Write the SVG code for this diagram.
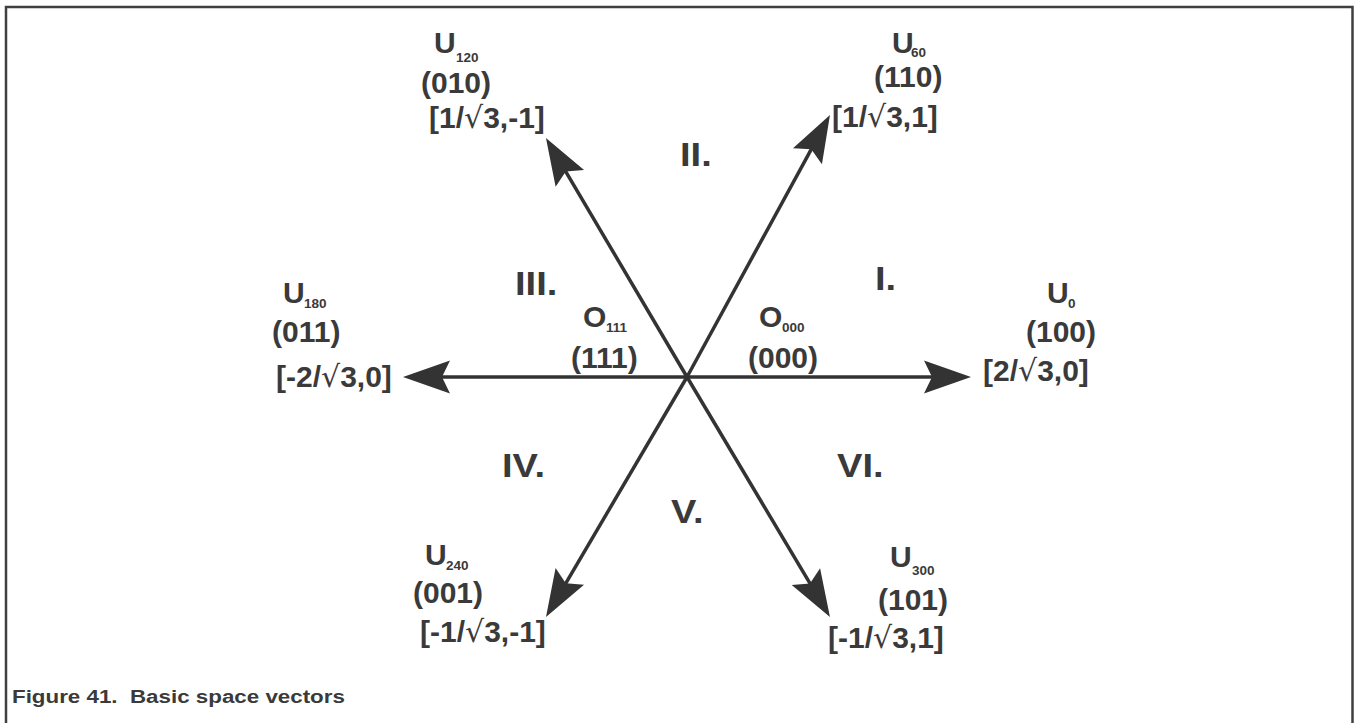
<svg xmlns="http://www.w3.org/2000/svg" width="1354" height="723" viewBox="0 0 1354 723">
<style>
.t{font-family:"Liberation Sans",Arial,sans-serif;font-weight:bold;font-size:30px;fill:#3a3a3a}
.s{font-size:13.5px}
.n{font-size:34px}
.r{font-family:"DejaVu Sans",sans-serif;font-weight:normal}
.cap{font-family:"Liberation Sans",Arial,sans-serif;font-weight:bold;font-size:19px;fill:#3a3a3a}
.v{stroke:#333;stroke-width:3.5;fill:none;marker-end:url(#ah)}
</style>
<defs>
<marker id="ah" markerUnits="userSpaceOnUse" viewBox="-50 -20 52 40" markerWidth="52" markerHeight="40" refX="-30" refY="0" orient="auto">
<path d="M0,0 L-47,-16.5 L-39,0 L-47,16.5 Z" fill="#333"/>
</marker>
</defs>
<rect width="1354" height="723" fill="#fff"/>
<path d="M6,723 V7 H1352.5 V723" fill="none" stroke="#404040" stroke-width="2.5"/>
<g id="connectors">
<line class="v" x1="687" y1="377" x2="941" y2="377"/>
<line class="v" x1="687" y1="377" x2="433" y2="377"/>
<line class="v" x1="687" y1="377" x2="815.6" y2="141.3"/>
<line class="v" x1="687" y1="377" x2="561.2" y2="163.8"/>
<line class="v" x1="687" y1="377" x2="561.2" y2="591.1"/>
<line class="v" x1="687" y1="377" x2="814.6" y2="591.2"/>
</g>
<g id="U0">
<text class="t" x="1047" y="303">U</text><text class="t s" x="1068" y="307.5">0</text>
<text class="t" x="1026" y="342">(100)</text>
<text class="t" x="983" y="381">[2/<tspan class="r">√</tspan>3,0]</text>
</g>
<g id="U60">
<text class="t" x="892" y="53">U</text><text class="t s" x="911" y="57">60</text>
<text class="t" x="874" y="87">(110)</text>
<text class="t" x="832" y="127">[1/<tspan class="r">√</tspan>3,1]</text>
</g>
<g id="U120">
<text class="t" x="434" y="53">U</text><text class="t s" x="456" y="62">120</text>
<text class="t" x="421" y="93">(010)</text>
<text class="t" x="429" y="128">[1/<tspan class="r">√</tspan>3,-1]</text>
</g>
<g id="U180">
<text class="t" x="283" y="303">U</text><text class="t s" x="304" y="307.5">180</text>
<text class="t" x="272" y="342">(011)</text>
<text class="t" x="276" y="387">[-2/<tspan class="r">√</tspan>3,0]</text>
</g>
<g id="U240">
<text class="t" x="425" y="565">U</text><text class="t s" x="446" y="570">240</text>
<text class="t" x="413" y="603">(001)</text>
<text class="t" x="420" y="642">[-1/<tspan class="r">√</tspan>3,-1]</text>
</g>
<g id="U300">
<text class="t" x="890" y="567">U</text><text class="t s" x="912" y="575">300</text>
<text class="t" x="878" y="610">(101)</text>
<text class="t" x="828" y="648">[-1/<tspan class="r">√</tspan>3,1]</text>
</g>
<g id="O111">
<text class="t" x="583" y="327">O</text><text class="t s" x="606" y="332">111</text>
<text class="t" x="571" y="368">(111)</text>
</g>
<g id="O000">
<text class="t" x="759" y="327">O</text><text class="t s" x="782" y="332">000</text>
<text class="t" x="748" y="368">(000)</text>
</g>
<g id="sectors">
<text class="t n" transform="translate(875,290) scale(1.12,1)">I.</text>
<text class="t n" transform="translate(680,166) scale(1.12,1)">II.</text>
<text class="t n" transform="translate(515,295) scale(1.12,1)">III.</text>
<text class="t n" transform="translate(502,477) scale(1.12,1)">IV.</text>
<text class="t n" transform="translate(671,523) scale(1.12,1)">V.</text>
<text class="t n" transform="translate(837,477) scale(1.12,1)">VI.</text>
</g>
<text class="cap" transform="translate(12,703) scale(1.177,1)">Figure 41.&#160; Basic space vectors</text>
</svg>
